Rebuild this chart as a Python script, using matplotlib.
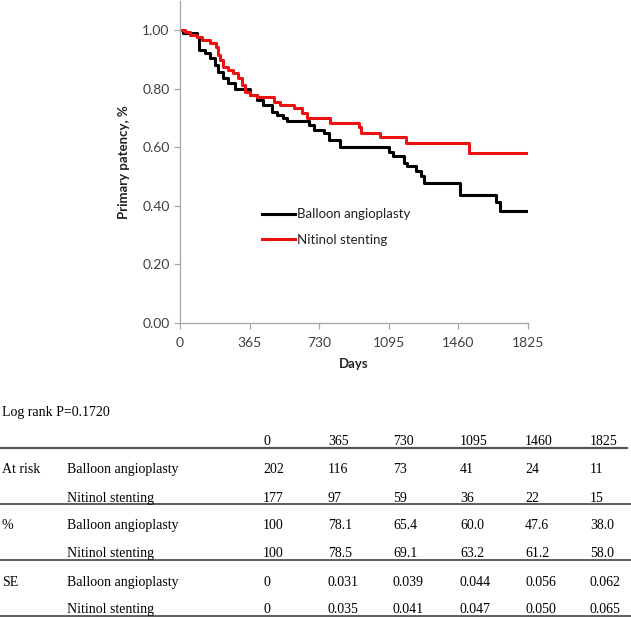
import matplotlib.pyplot as plt
from matplotlib.lines import Line2D

# Kaplan-Meier curves (day, survival after that day)
balloon_days = [0, 17, 88, 101, 131, 158, 184, 202, 228, 254, 289, 368, 403, 438,
                482, 508, 543, 561, 675, 701, 754, 780, 842, 1096, 1116, 1177,
                1194, 1237, 1267, 1281, 1469, 1661, 1678, 1825]
balloon_surv = [1.00, 0.989, 0.977, 0.932, 0.920, 0.903, 0.880, 0.857, 0.835,
                0.818, 0.797, 0.778, 0.761, 0.744, 0.721, 0.710, 0.698, 0.690,
                0.675, 0.658, 0.647, 0.624, 0.601, 0.584, 0.570, 0.545, 0.535,
                0.518, 0.501, 0.478, 0.436, 0.413, 0.380, 0.380]

nitinol_days = [0, 26, 53, 88, 114, 158, 189, 202, 210, 228, 254, 280, 307, 324,
                342, 368, 403, 491, 526, 596, 640, 666, 789, 938, 952, 1052,
                1184, 1517, 1825]
nitinol_surv = [1.00, 0.994, 0.983, 0.977, 0.966, 0.957, 0.943, 0.915, 0.898,
                0.875, 0.863, 0.852, 0.835, 0.812, 0.789, 0.778, 0.772, 0.755,
                0.744, 0.732, 0.716, 0.698, 0.683, 0.668, 0.649, 0.635, 0.615,
                0.580, 0.580]

x_ticks = [0, 365, 730, 1095, 1460, 1825]
y_ticks = [0.0, 0.2, 0.4, 0.6, 0.8, 1.0]

# numbers below the plot
p_text = "Log rank P=0.1720"
table_cols = ["0", "365", "730", "1095", "1460", "1825"]
group_names = ["Balloon angioplasty", "Nitinol stenting"]
row_labels = ["At risk", "%", "SE"]
at_risk_balloon = ["202", "116", "73", "41", "24", "11"]
at_risk_nitinol = ["177", "97", "59", "36", "22", "15"]
pct_balloon = ["100", "78.1", "65.4", "60.0", "47.6", "38.0"]
pct_nitinol = ["100", "78.5", "69.1", "63.2", "61.2", "58.0"]
se_balloon = ["0", "0.031", "0.039", "0.044", "0.056", "0.062"]
se_nitinol = ["0", "0.035", "0.041", "0.047", "0.050", "0.065"]

W, H = 631, 617
fig = plt.figure(figsize=(W / 100, H / 100), dpi=100)

def fx(px):
    return px / W

def fy(py):
    return 1 - py / H

ax = fig.add_axes([fx(180), fy(322.7), (527.7 - 180) / W, (322.7 - 0.7) / H])
ax.step(balloon_days, balloon_surv, where="post", color="black", lw=2.2,
        label="Balloon angioplasty")
ax.step(nitinol_days, nitinol_surv, where="post", color="#ee1111", lw=2.2,
        label="Nitinol stenting")
ax.set_xlim(0, 1825)
ax.set_ylim(0, 1.1)
ax.set_xticks(x_ticks)
ax.set_yticks(y_ticks)
ax.set_yticklabels(["%.2f" % v for v in y_ticks])
for side in ["top", "right"]:
    ax.spines[side].set_visible(False)
for side in ["left", "bottom"]:
    ax.spines[side].set_color("#a6a6a6")
    ax.spines[side].set_linewidth(0.9)
ax.tick_params(colors="#a6a6a6", length=4, width=0.9, labelcolor="#404040",
               labelsize=10)
for lab in ax.get_xticklabels() + ax.get_yticklabels():
    lab.set_family("Lato")
ax.tick_params(axis="x", pad=6)
ax.set_xlabel("Days", family="Lato", fontweight="bold", fontsize=9.5,
              color="#222222", labelpad=7)
ax.set_ylabel("Primary patency, %", family="Lato", fontweight="bold",
              fontsize=9.5, color="#222222", labelpad=9)

leg = ax.legend(loc="upper left", bbox_to_anchor=(0.235, 0.355), frameon=False,
                prop={"family": "Lato", "size": 9.5}, handlelength=2.5,
                handletextpad=0.2, labelspacing=1.0, borderpad=0,
                borderaxespad=0)
for t in leg.get_texts():
    t.set_color("#222222")

# table below
serif = "Liberation Serif"
fs = 10
fig.text(fx(2), fy(416), p_text, family=serif, fontsize=fs, va="baseline")

col_x = [263, 328, 393, 460, 525, 590]
for x, c in zip(col_x, table_cols):
    fig.text(fx(x), fy(445), c, family=serif, fontsize=fs, va="baseline")

blocks = [
    (row_labels[0], at_risk_balloon, at_risk_nitinol, 473.3, 501.7),
    (row_labels[1], pct_balloon, pct_nitinol, 529.3, 557.3),
    (row_labels[2], se_balloon, se_nitinol, 585.7, 613.3),
]
for label, vals1, vals2, y1, y2 in blocks:
    fig.text(fx(2), fy(y1), label, family=serif, fontsize=fs, va="baseline")
    fig.text(fx(66.7), fy(y1), group_names[0], family=serif, fontsize=fs,
             va="baseline")
    fig.text(fx(66.7), fy(y2), group_names[1], family=serif, fontsize=fs,
             va="baseline")
    for x, v in zip(col_x, vals1):
        fig.text(fx(x), fy(y1), v, family=serif, fontsize=fs, va="baseline")
    for x, v in zip(col_x, vals2):
        fig.text(fx(x), fy(y2), v, family=serif, fontsize=fs, va="baseline")

fig.add_artist(Line2D([fx(0), fx(627)], [fy(447.5), fy(447.5)], color="#555555",
                      lw=1.6))
for yl in [503.5, 559.5, 615.8]:
    fig.add_artist(Line2D([fx(0), fx(631)], [fy(yl), fy(yl)], color="#333333",
                          lw=1.1))

fig.savefig("out.png", dpi=100)
